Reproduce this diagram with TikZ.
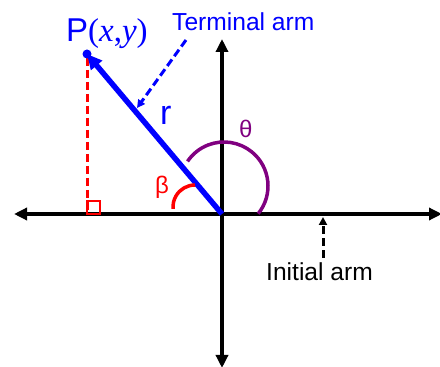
\documentclass[tikz,border=0pt]{standalone}
\usepackage{fontspec}
\setmainfont{Liberation Sans}
\newfontfamily\seriffont{Liberation Serif}
\usetikzlibrary{arrows.meta}
\definecolor{pblue}{RGB}{0,0,255}
\definecolor{pred}{RGB}{255,0,0}
\definecolor{ppurple}{RGB}{128,0,128}
\begin{document}
\begin{tikzpicture}[x=1pt,y=1pt,
  axis/.style={line width=4.5pt,-{Triangle[length=13pt,width=12pt]}},
  lbl/.style={inner sep=0pt,anchor=base west},
  pointer/.style={dashed,dash pattern=on 8pt off 4pt,line width=3pt,-{Triangle[length=8pt,width=8pt]}}]
\useasboundingbox (0,0) rectangle (440,367);
\coordinate (O) at (222,153);
\coordinate (P) at (87,313);
\coordinate (L) at (14,153);
\coordinate (R) at (442,153);
\coordinate (T) at (222,328);
\coordinate (B) at (222,-1);
\coordinate (F) at (87,153);
% axes
\draw[axis] (O) -- (L);
\draw[axis] (O) -- (R);
\draw[axis] (O) -- (T);
\draw[axis] (O) -- (B);
% red dashed perpendicular
\draw[pred,line width=3pt,dash pattern=on 8pt off 4pt] (87,309) -- (F);
\draw[pred,line width=1.8pt] (87,153) rectangle (100,166);
% terminal arm
\draw[pblue,line width=5.5pt,-{Triangle[length=15pt,width=14pt]}] (O) -- (P);
\fill[pblue] (P) circle (4.5);
% arcs
\draw[ppurple,line width=3.5pt] (224,181) ++(-39:44) arc (-39:146:44);
\draw[pred,line width=3.5pt] (195,160) ++(90:22) arc (90:185:22);
% labels
\node[lbl,text=pblue,font=\fontsize{33}{33}\selectfont] (Plbl) at (66,325) {P{\seriffont(\itshape x\upshape,\itshape y\upshape)}};
\node[lbl,text=pblue,font=\fontsize{24.6}{24.6}\selectfont] (Tlbl) at (172,336) {Terminal arm};
\node[lbl,text=black,font=\fontsize{24.6}{24.6}\selectfont] (Ilbl) at (266,86) {Initial arm};
\node[lbl,text=pblue,font=\fontsize{34}{34}\selectfont] (rlbl) at (160,242) {r};
\node[lbl,text=ppurple,font=\fontsize{24}{24}\selectfont] (thlbl) at (239,229) {θ};
\node[lbl,text=pred,font=\fontsize{24}{24}\selectfont] (blbl) at (155,173) {β};
% pointers
\coordinate (tp1) at (186,327);
\coordinate (tp2) at (137,259);
\draw[pointer,pblue] (tp1) -- (tp2);
\coordinate (ip1) at (323,109);
\coordinate (ip2) at (323,150);
\draw[pointer,black] (ip1) -- (ip2);
\end{tikzpicture}
\end{document}
